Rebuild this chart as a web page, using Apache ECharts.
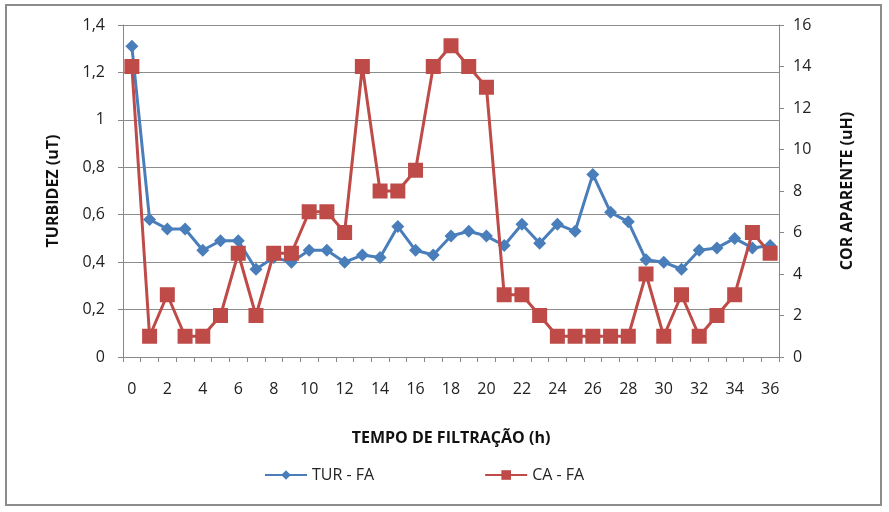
<!DOCTYPE html>
<html>
<head>
<meta charset="utf-8">
<script src="https://cdn.jsdelivr.net/npm/echarts@6/dist/echarts.min.js"></script>
<style>
  html, body { margin: 0; padding: 0; background: #fff; }
  #box { position: absolute; left: 5px; top: 4px; width: 877px; height: 502px; border: 2px solid #8c8c8c; box-sizing: border-box; }
  #chart { width: 889px; height: 512px; }
</style>
</head>
<body>
<div id="box"></div>
<div id="chart"></div>
<script>
// dados
var horas = [];
for (var i = 0; i <= 36; i++) horas.push(String(i));
var turbidez = [1.31,0.58,0.54,0.54,0.45,0.49,0.49,0.37,0.42,0.40,0.45,0.45,0.40,0.43,0.42,0.55,0.45,0.43,0.51,0.53,0.51,0.47,0.56,0.48,0.56,0.53,0.77,0.61,0.57,0.41,0.40,0.37,0.45,0.46,0.50,0.46,0.47];
var corAparente = [14,1,3,1,1,2,5,2,5,5,7,7,6,14,8,8,9,14,15,14,13,3,3,2,1,1,1,1,1,4,1,3,1,2,3,6,5];

var fonte = '"Open Sans", "Liberation Sans", sans-serif';
var virgula = function (v) { return String(Math.round(v * 10) / 10).replace('.', ','); };

var myChart = echarts.init(document.getElementById('chart'));
var option = {
  animation: false,
  textStyle: { fontFamily: fonte },
  grid: { left: 123, right: 110, top: 25, bottom: 155, containLabel: false },
  legend: {
    top: 462,
    left: 259,
    itemGap: 110,
    itemWidth: 42,
    itemHeight: 12,
    textStyle: { fontSize: 16, color: '#222', fontFamily: fonte },
    data: ['TUR - FA', 'CA - FA']
  },
  xAxis: {
    type: 'category',
    data: horas,
    boundaryGap: true,
    name: 'TEMPO DE FILTRAÇÃO (h)',
    nameLocation: 'middle',
    nameGap: 73,
    nameTextStyle: { fontSize: 16, fontWeight: 'bold', color: '#111' },
    axisLine: { lineStyle: { color: '#888' } },
    axisTick: { show: true, interval: 0, alignWithLabel: false, length: 5, lineStyle: { color: '#888' } },
    axisLabel: { interval: 1, fontSize: 16, color: '#222', margin: 24 }
  },
  yAxis: [
    {
      type: 'value',
      min: 0, max: 1.4, interval: 0.2,
      name: 'TURBIDEZ (uT)',
      nameLocation: 'middle',
      nameGap: 62,
      nameTextStyle: { fontSize: 16, fontWeight: 'bold', color: '#111' },
      axisLine: { show: true, lineStyle: { color: '#888' } },
      axisTick: { show: true, length: 5, lineStyle: { color: '#888' } },
      axisLabel: { fontSize: 16, color: '#222', margin: 18, formatter: virgula },
      splitLine: { lineStyle: { color: '#8c8c8c', width: 1 } }
    },
    {
      type: 'value',
      min: 0, max: 16, interval: 2,
      position: 'right',
      name: 'COR APARENTE (uH)',
      nameLocation: 'middle',
      nameGap: 60,
      nameRotate: 90,
      nameTextStyle: { fontSize: 16, fontWeight: 'bold', color: '#111' },
      axisLine: { show: true, lineStyle: { color: '#888' } },
      axisTick: { show: true, length: 5, lineStyle: { color: '#888' } },
      axisLabel: { fontSize: 16, color: '#222', margin: 14 },
      splitLine: { show: false }
    }
  ],
  series: [
    {
      name: 'TUR - FA',
      type: 'line',
      yAxisIndex: 0,
      data: turbidez,
      symbol: 'diamond',
      symbolSize: 13,
      showAllSymbol: true,
      lineStyle: { width: 3, color: '#4A7EBB' },
      itemStyle: { color: '#4A7EBB' },
      z: 2
    },
    {
      name: 'CA - FA',
      type: 'line',
      yAxisIndex: 1,
      data: corAparente,
      symbol: 'rect',
      symbolSize: 15,
      showAllSymbol: true,
      lineStyle: { width: 3, color: '#BE4B48' },
      itemStyle: { color: '#BE4B48' },
      z: 3
    }
  ]
};
myChart.setOption(option);
</script>
</body>
</html>
